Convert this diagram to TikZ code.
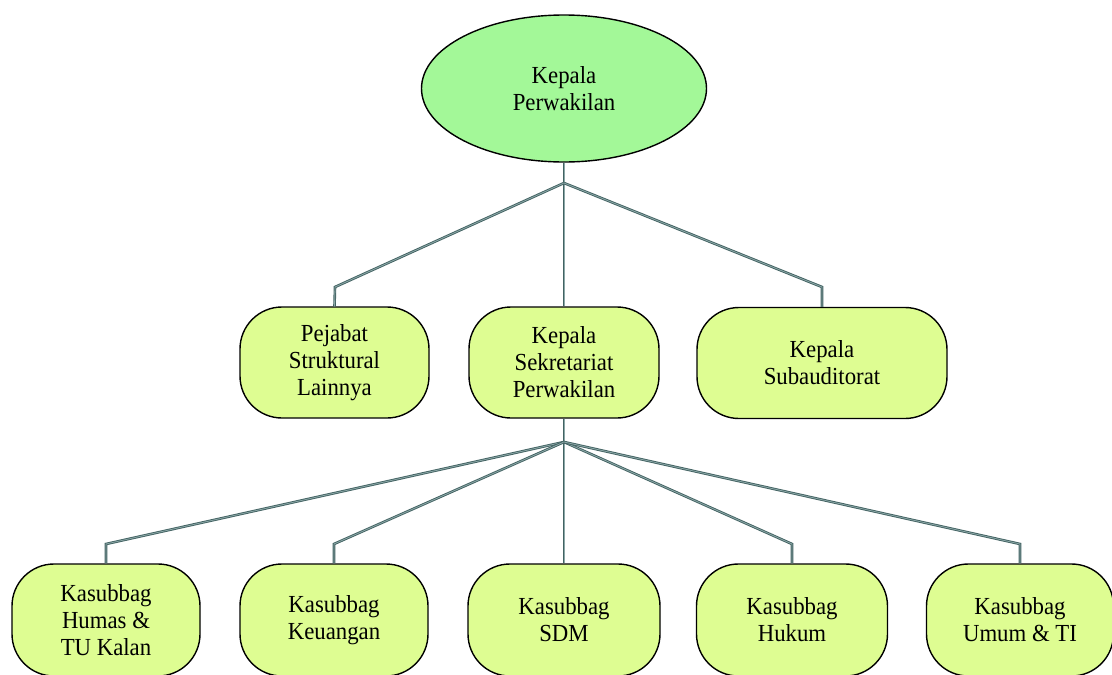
\documentclass[tikz,border=0pt]{standalone}
\usepackage{fontspec}
\setmainfont{Liberation Serif}[FakeStretch=0.93]
\usetikzlibrary{shapes.geometric}
\definecolor{headfill}{RGB}{163,248,152}
\definecolor{boxfill}{RGB}{222,253,146}
\definecolor{linkdark}{RGB}{66,98,98}
\definecolor{linklight}{RGB}{140,168,168}
\tikzset{
  lbl/.style={font=\fontsize{24.5}{27}\selectfont, align=center, text=black},
  headnode/.style={lbl, ellipse, draw=black, line width=1.4pt, fill=headfill,
    minimum width=285, minimum height=147, inner sep=0pt},
  unitbox/.style={lbl, draw=black, line width=1.4pt, fill=boxfill,
    rounded corners=42pt, minimum height=111, inner sep=0pt},
  link/.style={draw=linkdark, line width=2.6pt, line join=miter,
    postaction={draw=linklight, line width=0.8pt}}
}
\begin{document}
\begin{tikzpicture}[x=1pt, y=-1pt]
  \useasboundingbox (0,0) rectangle (1112,675);
  % junction and elbow points of the connectors
  \coordinate (j1) at (564,183);
  \coordinate (e1) at (335,287);
  \coordinate (e2) at (822,287);
  \coordinate (j2) at (564,442);
  \coordinate (f1) at (106,544);
  \coordinate (f2) at (334,544);
  \coordinate (f4) at (792,544);
  \coordinate (f5) at (1020,544);

  % head
  \node[headnode] (top) at (564,88.5) {Kepala\\Perwakilan};
  % second level
  \node[unitbox, minimum width=189] (pej) at (334.5,362.5) {Pejabat\\Struktural\\Lainnya};
  \node[unitbox, minimum width=190] (sek) at (564,362.5) {Kepala\\Sekretariat\\Perwakilan};
  \node[unitbox, minimum width=250] (sub) at (822,363) {Kepala\\Subauditorat};
  % third level
  \node[unitbox, minimum width=188, minimum height=112] (hum) at (106,620) {Kasubbag\\Humas \&\\TU Kalan};
  \node[unitbox, minimum width=188, minimum height=112] (keu) at (334,620) {Kasubbag\\Keuangan};
  \node[unitbox, minimum width=192, minimum height=112] (sdm) at (564,620) {Kasubbag\\SDM};
  \node[unitbox, minimum width=191, minimum height=112] (huk) at (792,620) {Kasubbag\\Hukum};
  \node[unitbox, minimum width=187, minimum height=112] (umu) at (1020,620) {Kasubbag\\Umum \& TI};

  % head to second level
  \draw[link] (top.south) -- (j1);
  \draw[link] (j1) -- (sek.north);
  \draw[link] (j1) -- (e1) -- (pej.north);
  \draw[link] (j1) -- (e2) -- (sub.north);
  % secretariat to third level
  \draw[link] (sek.south) -- (j2);
  \draw[link] (j2) -- (sdm.north);
  \draw[link] (j2) -- (f1) -- (hum.north);
  \draw[link] (j2) -- (f2) -- (keu.north);
  \draw[link] (j2) -- (f4) -- (huk.north);
  \draw[link] (j2) -- (f5) -- (umu.north);
\end{tikzpicture}
\end{document}
